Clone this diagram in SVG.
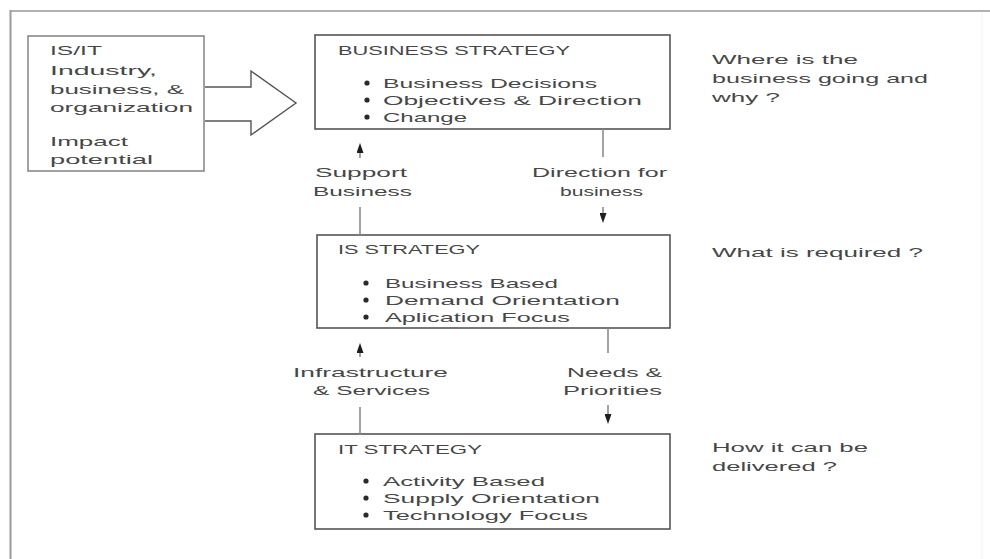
<svg xmlns="http://www.w3.org/2000/svg" width="990" height="559" viewBox="0 0 990 559">
<defs>
<style>
text{font-family:"Liberation Sans",Arial,sans-serif;font-size:13.5px;fill:#474747}
.box{fill:#fff;stroke:#555;stroke-width:1.6}
.lbox{fill:#fff;stroke:#8a8a8a;stroke-width:1.6}
.ln{stroke:#8c8c8c;stroke-width:1.6;fill:none}
.dot{fill:#2a2a2a}
</style>
<marker id="ah" markerWidth="10" markerHeight="7" refX="5" refY="3.5" orient="auto" markerUnits="userSpaceOnUse" viewBox="0 0 10 7">
<path d="M0,0 L10,3.5 L0,7 Z" fill="#1e1e1e"/>
</marker>
</defs>
<rect width="990" height="559" fill="#fff"/>
<g id="frame">
<line x1="10" y1="11" x2="990" y2="11" stroke="#b0b0b0" stroke-width="2"/>
<line x1="10.5" y1="10" x2="10.5" y2="559" stroke="#9a9a9a" stroke-width="2"/>
<line x1="982" y1="12" x2="982" y2="559" stroke="#f2f2f2" stroke-width="1"/>
</g>
<g id="impact">
<rect class="lbox" x="28" y="36" width="176" height="135"/>
<text x="50" y="55" textLength="52" lengthAdjust="spacingAndGlyphs">IS/IT</text>
<text x="50" y="75" textLength="107" lengthAdjust="spacingAndGlyphs">Industry,</text>
<text x="50" y="94" textLength="134" lengthAdjust="spacingAndGlyphs">business, &amp;</text>
<text x="50" y="112" textLength="143" lengthAdjust="spacingAndGlyphs">organization</text>
<text x="50" y="146" textLength="78" lengthAdjust="spacingAndGlyphs">Impact</text>
<text x="50" y="164" textLength="103" lengthAdjust="spacingAndGlyphs">potential</text>
</g>
<g id="block-arrow">
<path d="M205,87 L251,87 L251,71 L296,103 L251,135 L251,121 L205,121" fill="#fff" stroke="#555" stroke-width="1.4" stroke-linejoin="miter"/>
</g>
<g id="business">
<rect class="box" x="315" y="35" width="355" height="94"/>
<text x="338" y="55" textLength="232" lengthAdjust="spacingAndGlyphs">BUSINESS STRATEGY</text>
<circle class="dot" cx="367" cy="83" r="2.6"/>
<circle class="dot" cx="367" cy="100" r="2.6"/>
<circle class="dot" cx="367" cy="117" r="2.6"/>
<text x="383" y="88" textLength="214" lengthAdjust="spacingAndGlyphs">Business Decisions</text>
<text x="383" y="105" textLength="259" lengthAdjust="spacingAndGlyphs">Objectives &amp; Direction</text>
<text x="383" y="122" textLength="84" lengthAdjust="spacingAndGlyphs">Change</text>
</g>
<g id="is">
<rect class="box" x="317" y="235" width="353" height="93"/>
<text x="338" y="254" textLength="142" lengthAdjust="spacingAndGlyphs">IS STRATEGY</text>
<circle class="dot" cx="366" cy="283" r="2.6"/>
<circle class="dot" cx="366" cy="300" r="2.6"/>
<circle class="dot" cx="366" cy="317" r="2.6"/>
<text x="385" y="288" textLength="173" lengthAdjust="spacingAndGlyphs">Business Based</text>
<text x="385" y="305" textLength="235" lengthAdjust="spacingAndGlyphs">Demand Orientation</text>
<text x="385" y="322" textLength="185" lengthAdjust="spacingAndGlyphs">Aplication Focus</text>
</g>
<g id="it">
<rect class="box" x="315" y="434" width="355" height="95"/>
<text x="338" y="454" textLength="144" lengthAdjust="spacingAndGlyphs">IT STRATEGY</text>
<circle class="dot" cx="366" cy="481" r="2.6"/>
<circle class="dot" cx="366" cy="498" r="2.6"/>
<circle class="dot" cx="366" cy="515" r="2.6"/>
<text x="383" y="486" textLength="162" lengthAdjust="spacingAndGlyphs">Activity Based</text>
<text x="383" y="503" textLength="217" lengthAdjust="spacingAndGlyphs">Supply Orientation</text>
<text x="383" y="520" textLength="205" lengthAdjust="spacingAndGlyphs">Technology Focus</text>
</g>
<g id="connectors">
<line class="ln" x1="360" y1="235" x2="360" y2="207"/>
<line class="ln" x1="360" y1="158" x2="360" y2="148" marker-end="url(#ah)"/>
<line class="ln" x1="603" y1="129" x2="603" y2="157"/>
<line class="ln" x1="603" y1="207" x2="603" y2="218" marker-end="url(#ah)"/>
<line class="ln" x1="360" y1="434" x2="360" y2="407"/>
<line class="ln" x1="360" y1="357" x2="360" y2="348" marker-end="url(#ah)"/>
<line class="ln" x1="608" y1="328" x2="608" y2="353"/>
<line class="ln" x1="608" y1="405" x2="608" y2="419" marker-end="url(#ah)"/>
</g>
<g id="labels">
<text x="315" y="177" textLength="92" lengthAdjust="spacingAndGlyphs">Support</text>
<text x="313" y="196" textLength="99" lengthAdjust="spacingAndGlyphs">Business</text>
<text x="532" y="177" textLength="135" lengthAdjust="spacingAndGlyphs">Direction for</text>
<text x="560" y="196" textLength="83" lengthAdjust="spacingAndGlyphs">business</text>
<text x="293" y="377" textLength="155" lengthAdjust="spacingAndGlyphs">Infrastructure</text>
<text x="313" y="395" textLength="117" lengthAdjust="spacingAndGlyphs">&amp; Services</text>
<text x="567" y="377" textLength="95" lengthAdjust="spacingAndGlyphs">Needs &amp;</text>
<text x="563" y="395" textLength="99" lengthAdjust="spacingAndGlyphs">Priorities</text>
</g>
<g id="questions">
<text x="712" y="64" textLength="146" lengthAdjust="spacingAndGlyphs">Where is the</text>
<text x="712" y="83" textLength="216" lengthAdjust="spacingAndGlyphs">business going and</text>
<text x="712" y="102" textLength="68" lengthAdjust="spacingAndGlyphs">why ?</text>
<text x="712" y="257" textLength="211" lengthAdjust="spacingAndGlyphs">What is required ?</text>
<text x="712" y="452" textLength="156" lengthAdjust="spacingAndGlyphs">How it can be</text>
<text x="712" y="471" textLength="125" lengthAdjust="spacingAndGlyphs">delivered ?</text>
</g>
</svg>
